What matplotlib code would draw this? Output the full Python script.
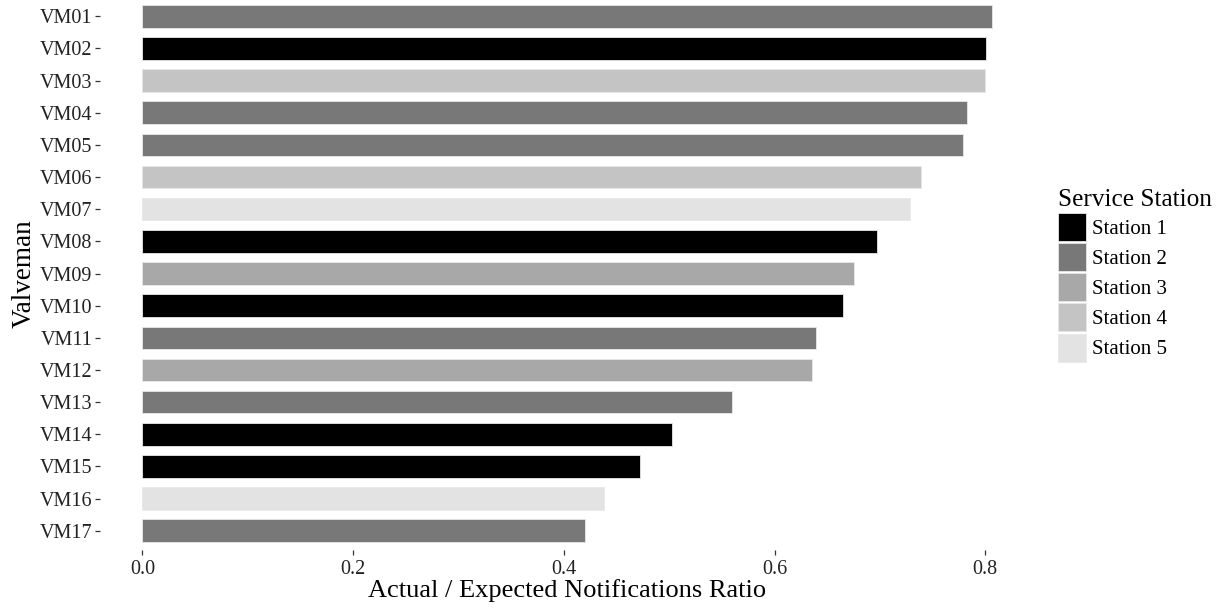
import numpy as np
import matplotlib.pyplot as plt
from matplotlib.patches import Patch

plt.rcParams['font.family'] = ['Liberation Serif', 'DejaVu Serif']

# data
valvemen = ["VM01", "VM02", "VM03", "VM04", "VM05", "VM06", "VM07", "VM08", "VM09",
            "VM10", "VM11", "VM12", "VM13", "VM14", "VM15", "VM16", "VM17"]
ratio = [0.806, 0.801, 0.800, 0.783, 0.779, 0.739, 0.729, 0.697, 0.675,
         0.665, 0.639, 0.636, 0.560, 0.503, 0.472, 0.438, 0.420]
station = ["Station 2", "Station 1", "Station 4", "Station 2", "Station 2", "Station 4",
           "Station 5", "Station 1", "Station 3", "Station 1", "Station 2", "Station 3",
           "Station 2", "Station 1", "Station 1", "Station 5", "Station 2"]
stations = ["Station 1", "Station 2", "Station 3", "Station 4", "Station 5"]
greys = ["#000000", "#787878", "#A8A8A8", "#C4C4C4", "#E3E3E3"]
station_colour = dict(zip(stations, greys))

fig = plt.figure(figsize=(12.3, 6.11), dpi=100)
ax = fig.add_axes([100 / 1230, 1 - 550 / 611, 934 / 1230, 553 / 611])

y = np.arange(len(valvemen))
ax.barh(y, ratio, height=0.7, color=[station_colour[s] for s in station],
        edgecolor="#E8E8E8", linewidth=0.6)

# ggplot-like expansion
top = max(ratio)
ax.set_xlim(-0.05 * top, top * 1.05)
ax.set_ylim(len(valvemen) - 0.4, -0.6)

for s in ax.spines.values():
    s.set_visible(False)

ax.set_yticks(y, valvemen)
xt = [0.0, 0.2, 0.4, 0.6, 0.8]
ax.set_xticks(xt, [f"{v:.1f}" for v in xt])
ax.tick_params(length=3.5, width=0.9, color="#333333", labelsize=14.5, pad=2,
               labelcolor="#222222")
ax.tick_params(axis="x", pad=4)

ax.set_xlabel("Actual / Expected Notifications Ratio", fontsize=19, labelpad=0)
ax.set_ylabel("Valveman", fontsize=19.5, labelpad=2)

handles = [Patch(facecolor=station_colour[s], edgecolor="#E8E8E8", linewidth=0.6, label=s)
           for s in stations]
fig.legend(handles=handles, title="Service Station", loc="upper left",
           bbox_to_anchor=(1043 / 1230, 1 - 174 / 611), frameon=False,
           handlelength=1.35, handleheight=1.7, labelspacing=0.1, handletextpad=0.3,
           fontsize=15, title_fontsize=18.2, alignment="left", borderpad=0.2)

fig.savefig("out.png", dpi=100)
